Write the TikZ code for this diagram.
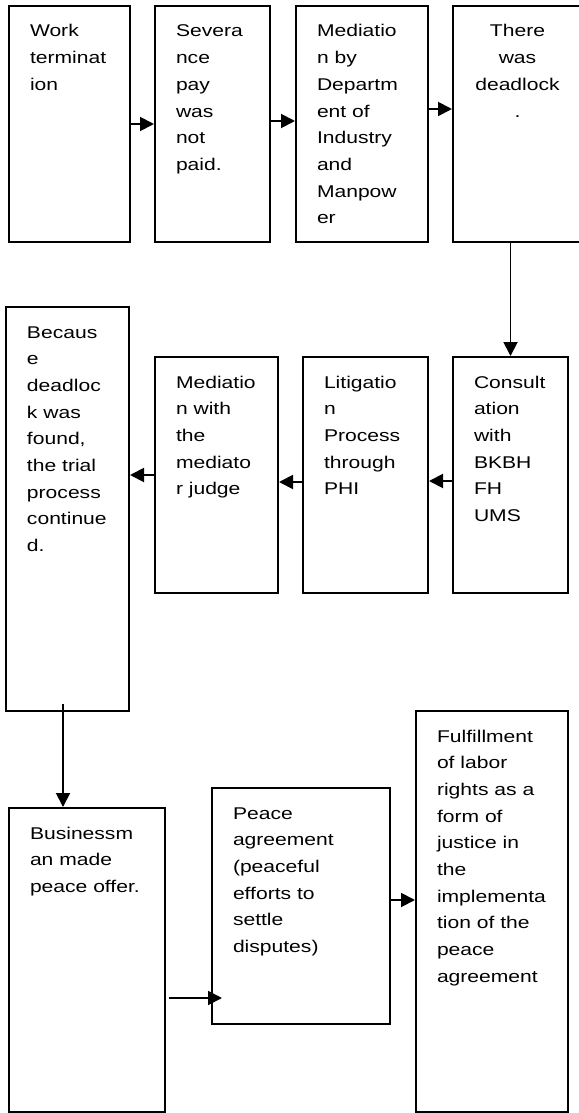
\documentclass[tikz,border=0pt]{standalone}
\usepackage{fontspec}
\setmainfont{Liberation Sans}[FakeStretch=1.24]
\usepackage{tikz}
\usetikzlibrary{arrows.meta, calc}

\tikzset{
    stage/.style={draw, line width=2pt, anchor=north west, inner xsep=21pt, inner ysep=17pt,
        font=\fontsize{17}{26.7}\selectfont},
    flow/.style={line width=1.9pt, -{Triangle[length=14pt,width=14pt]}}
}
\newcommand{\stagetext}[3]{\parbox[t][#2][t]{#1}{\rule{0pt}{14pt}#3}}

\begin{document}
\begin{tikzpicture}[x=1pt, y=-1pt]
    \useasboundingbox (0,0) rectangle (578,1113);
    % first row, left to right
    \node[stage] (1) at (8,5) {\stagetext{79pt}{202pt}{Work\\terminat\\ion}};
    \node[stage] (2) at (154,5) {\stagetext{73pt}{202pt}{Severa\\nce\\pay\\was\\not\\paid.}};
    \node[stage] (3) at (295,5) {\stagetext{90pt}{202pt}{Mediatio\\n by\\Departm\\ent of\\Industry\\and\\Manpow\\er}};
    \node[stage] (4) at (452,5) {\stagetext{87pt}{202pt}{\centering There\\was\\deadlock\\.\par}};
    % second row, right to left
    \node[stage] (5) at (452,356) {\stagetext{73pt}{202pt}{Consult\\ation\\with\\BKBH\\FH\\UMS}};
    \node[stage] (6) at (302,356) {\stagetext{83pt}{202pt}{Litigatio\\n\\Process\\through\\PHI}};
    \node[stage] (7) at (154,356) {\stagetext{81pt}{202pt}{Mediatio\\n with\\the\\mediato\\r judge}};
    \node[stage] (8) at (5,306) {\stagetext{81pt}{370pt}{Becaus\\e\\deadloc\\k was\\found,\\the trial\\process\\continue\\d.}};
    % third row
    \node[stage] (9) at (8,807) {\stagetext{114pt}{270pt}{Businessm\\an made\\peace offer.}};
    \node[stage] (10) at (211,787) {\stagetext{136pt}{202pt}{Peace\\agreement\\(peaceful\\efforts to\\settle\\disputes)}};
    \node[stage] (11) at (415,710) {\stagetext{110pt}{367pt}{Fulfillment\\of labor\\rights as a\\form of\\justice in\\the\\implementa\\tion of the\\peace\\agreement}};

    \coordinate (drop) at ([xshift=-4.5pt,yshift=8pt]8.south);
    \coordinate (offer) at ([xshift=3pt,yshift=-38pt]9.east);
    \coordinate (accord) at ([yshift=6pt]10.east);

    \draw[flow] (1.east) -- (2.west);
    \draw[flow] ([yshift=3pt]2.east) -- ([yshift=3pt]3.west);
    \draw[flow] ([yshift=15pt]3.east) -- ([yshift=15pt]4.west);
    \draw[flow] (5.north |- 4.south) -- (5.north);
    \draw[flow] ([yshift=-6pt]5.west) -- ([yshift=-6pt]6.east);
    \draw[flow] ([yshift=-7pt]6.west) -- ([yshift=-7pt]7.east);
    \draw[flow] (7.west) -- (7.west -| 8.east);
    \draw[flow] (drop) -- (drop |- 9.north);
    \draw[flow] (offer) -- ($(offer -| 10.west)+(11pt,0)$);
    \draw[flow] (accord) -- (accord -| 11.west);
\end{tikzpicture}
\end{document}
